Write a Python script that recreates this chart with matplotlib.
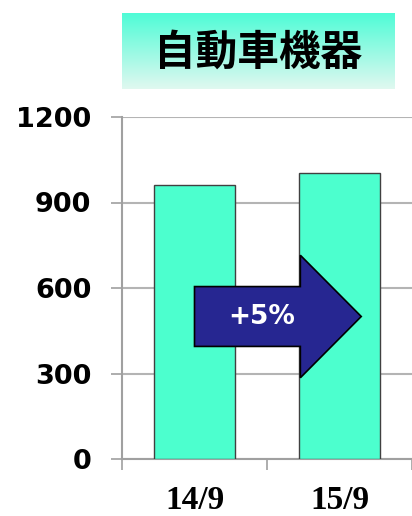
import numpy as np
import matplotlib.pyplot as plt
from matplotlib.patches import FancyArrow

# data
categories = ["14/9", "15/9"]
values = [960, 1005]
yticks = [0, 300, 600, 900, 1200]
title = "自動車機器"
change_label = "+5%"

W, H = 412, 516
fig = plt.figure(figsize=(W / 100, H / 100), dpi=100)

# title box with vertical gradient
tax = fig.add_axes([122 / W, 1 - 89 / H, (395 - 122) / W, (89 - 13) / H])
top = np.array([0x4d, 0xfc, 0xd6]) / 255
bot = np.array([0xe0, 0xf8, 0xf0]) / 255
t = np.linspace(0, 1, 100)[:, None]
grad = (top * (1 - t) + bot * t)[:, None, :]
tax.imshow(grad, aspect="auto", extent=[0, 1, 0, 1])
tax.set_axis_off()
tax.text(0.5, 0.48, title, ha="center", va="center", fontsize=30,
         fontweight="bold", family=["Noto Sans CJK JP", "DejaVu Sans"],
         color="black")

# main chart
ax = fig.add_axes([122 / W, 57 / H, (W - 122) / W, 342 / H])
x = np.arange(len(categories))
ax.bar(x, values, width=0.56, color="#4cffce", edgecolor="#404040",
       linewidth=1.0, zorder=3)

ax.set_xlim(-0.5, len(categories) - 0.5)
ax.set_ylim(0, 1200)
ax.set_yticks(yticks)
ax.set_yticklabels([str(v) for v in yticks], fontsize=19.5,
                   fontweight="bold", family="DejaVu Sans")
ax.yaxis.grid(True, color="#b4b4b4", linewidth=1.5, zorder=0)
ax.tick_params(axis="y", length=8, width=1.2, color="#a0a0a0", pad=14)

ax.set_xticks(x)
ax.set_xticklabels(categories, fontsize=24, fontweight="bold",
                   family="Liberation Serif")
ax.set_xticks(np.arange(-0.5, len(categories)), minor=True)
ax.tick_params(axis="x", which="major", length=0, pad=19)
ax.tick_params(axis="x", which="minor", length=8, width=1.2, color="#a0a0a0")

for s in ["top", "right"]:
    ax.spines[s].set_visible(False)
for s in ["left", "bottom"]:
    ax.spines[s].set_color("#a0a0a0")
    ax.spines[s].set_linewidth(1.5)

# growth arrow
arrow = FancyArrow(0.0, 500, 1.15, 0, width=210, head_width=430,
                   head_length=0.42, length_includes_head=True,
                   facecolor="#262691", edgecolor="black", linewidth=1.2,
                   zorder=4)
ax.add_patch(arrow)
ax.text(0.466, 500, change_label, ha="center", va="center", color="white",
        fontsize=19, fontweight="bold", zorder=5)

fig.savefig("out.png", dpi=100)
